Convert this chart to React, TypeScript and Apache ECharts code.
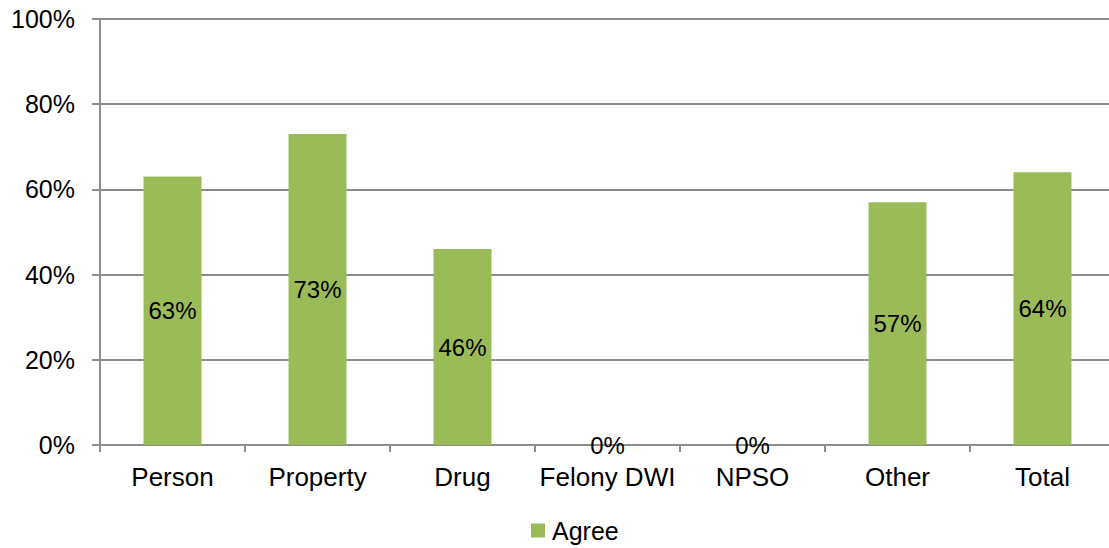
import React, { useEffect, useRef } from "react";
import * as echarts from "echarts";

// Offense categories along the x axis
const categories = ["Person", "Property", "Drug", "Felony DWI", "NPSO", "Other", "Total"];
// Share of respondents who agree, in percent
const agreeValues = [63, 73, 46, 0, 0, 57, 64];
// Y-axis range and step, in percent
const yMin = 0;
const yMax = 100;
const yStep = 20;

const FONT = "'Liberation Sans', Arial, sans-serif";
const AXIS_GRAY = "#8c8c8c";
const BAR_GREEN = "#9bbb59";

export default function App() {
  const ref = useRef<HTMLDivElement>(null);

  useEffect(() => {
    if (!ref.current) return;
    const chart = echarts.init(ref.current, undefined, { renderer: "svg" });
    chart.setOption({
      animation: false,
      backgroundColor: "#ffffff",
      textStyle: { fontFamily: FONT },
      grid: { left: 100, right: 0, top: 19, bottom: 103, containLabel: false },
      legend: {
        data: ["Agree"],
        left: 526,
        top: 513,
        icon: "rect",
        itemWidth: 14,
        itemHeight: 14,
        textStyle: { fontFamily: FONT, fontSize: 25, color: "#000", padding: [0, 0, 0, 2] },
      },
      xAxis: {
        type: "category",
        data: categories,
        axisLine: { show: true, lineStyle: { color: AXIS_GRAY, width: 2 } },
        axisTick: {
          show: true,
          alignWithLabel: false,
          length: 7,
          lineStyle: { color: AXIS_GRAY, width: 2 },
        },
        axisLabel: { color: "#000", fontSize: 26, fontFamily: FONT, margin: 19, interval: 0 },
      },
      yAxis: {
        type: "value",
        min: yMin,
        max: yMax,
        interval: yStep,
        axisLine: { show: true, lineStyle: { color: AXIS_GRAY, width: 2 } },
        axisTick: { show: true, length: 8, lineStyle: { color: AXIS_GRAY, width: 2 } },
        splitLine: { show: true, lineStyle: { color: AXIS_GRAY, width: 2 } },
        axisLabel: {
          color: "#000",
          fontSize: 25,
          fontFamily: FONT,
          margin: 25,
          formatter: (v: number) => `${v}%`,
        },
      },
      series: [
        {
          name: "Agree",
          type: "bar",
          data: agreeValues,
          barWidth: "40%",
          itemStyle: { color: BAR_GREEN },
          label: {
            show: true,
            position: "inside",
            color: "#000",
            fontSize: 24,
            fontFamily: FONT,
            formatter: (p: any) => `${p.value}%`,
          },
        },
      ],
    });
    return () => chart.dispose();
  }, []);

  // the chart is a few pixels wider than the window so the plot area runs off the right edge
  return (
    <div
      ref={ref}
      style={{ position: "fixed", left: 0, top: 0, width: 1115, height: 548 }}
    />
  );
}
